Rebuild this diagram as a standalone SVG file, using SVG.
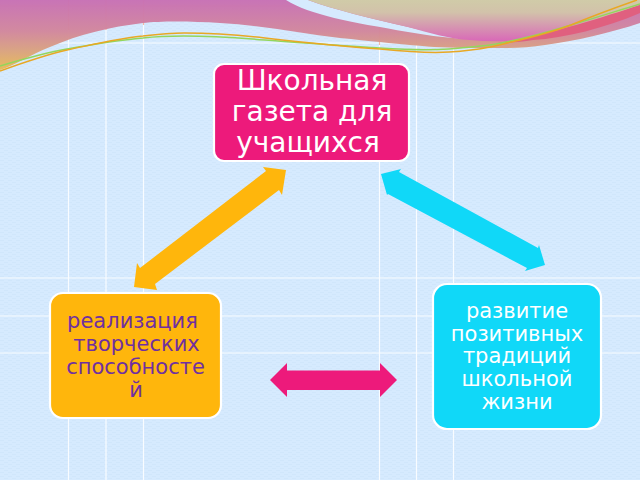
<svg xmlns="http://www.w3.org/2000/svg" width="640" height="480" viewBox="0 0 640 480">
<style>
.g{stroke:#fff;stroke-width:1.2;fill:none;opacity:.85}
.box{stroke:#fff;stroke-width:2.2}
text{font-family:"DejaVu Sans",sans-serif;text-anchor:middle}
.t1{font-size:28px;fill:#fff}
.t2{font-size:21px;fill:#7030a0}
.t3{font-size:21px;fill:#fff}
</style>
<defs>
<pattern id="tex" width="8" height="4" patternUnits="userSpaceOnUse"><rect width="8" height="4" fill="#d6eafe"/><rect x="0" y="0" width="4" height="1" fill="#d0e6fb"/><rect x="4" y="2" width="4" height="1" fill="#d0e6fb"/></pattern>
<linearGradient id="a" x1="0" y1="0" x2="0" y2="1"><stop offset="0" stop-color="#c870b4"/><stop offset=".45" stop-color="#d2879c"/><stop offset=".7" stop-color="#d9a082"/><stop offset="1" stop-color="#e8bc55"/></linearGradient>
<linearGradient id="b" x1="0" y1="0" x2="0" y2="1"><stop offset="0" stop-color="#d0cba8"/><stop offset=".3" stop-color="#d2c2aa"/><stop offset="1" stop-color="#d968b8"/></linearGradient>
</defs>
<rect width="640" height="480" fill="url(#tex)"/>
<g id="grid">
<path class="g" d="M68.500 0V480M106 0V480M143.500 0V480M379.500 0V480M416.500 0V480M453.500 0V480M0 43H640M0 278H640M0 316H640M0 353H640"/>
<path d="M68.500 0V30M106 0V30M143.500 0V25M379.500 0V45M416.500 0V45M453.500 0V45M0 6H640" stroke="#f4b8a4" stroke-width="1.200" fill="none"/>
</g>
<g id="top-band">
<path d="M0 0H640V23C610 33 575 41 545 45C520 49 495 48 470 48C430 48 400 44 340 38C300 33 260 25 220 23C190 21 160 21 143 23C110 27 80 34 50 47C30 55 15 65 0 70Z" fill="url(#a)" fill-opacity=".97"/>
<path d="M286 0C310 15 350 22 408 32C425 35 440 37 465 39L470 36C440 34 425 31 408 27C370 18 335 10 308 0Z" fill="#d6eafe"/>
<path d="M308 0H640V5C600 20 560 32 530 38C510 42 490 42 470 40C450 39 430 33 408 27C370 18 335 10 308 0Z" fill="url(#b)"/>
<path d="M497 43C545 36 600 18 640 5V13C605 28 565 38 533 40C520 42 508 43 497 43Z" fill="#e0607f"/>
<path d="M0 66C30 57 45 53 67 49C100 43 120 40 143 38C160 36 175 36 184 36C210 36 240 38 265 40C300 43 350 46 380 48C410 50 435 50 449 49C465 48 480 46 490 45C520 40 545 33 571 25C595 18 620 10 640 4" fill="none" stroke="#93d65c" stroke-width="1.500"/>
<path d="M0 71C25 62 45 55 67 50C100 43 120 38 143 36C160 34 175 33 184 33C210 33 240 35 265 38C300 42 350 47 380 49C410 52 435 53 449 52C465 51 480 49 490 47C520 40 545 35 571 25C595 15 620 6 637 0" fill="none" stroke="#e8a824" stroke-width="1.500"/>
</g>
<g id="connectors">
<polygon fill="#ffb60c" points="286,170 263,167 266,171 140,268 137,263 134,287 157,290 155,284 279,190 282,195"/>
<polygon fill="#10d8f8" points="381,174 401,169 399,172 538,248 539,245 545,265 525,271 527,268 388,194 387,195"/>
<polygon fill="#ed1a7b" points="270,380 287,363 287,370.500 380,370.500 380,363 397,380 380,397 380,390 287,390 287,397"/>
</g>
<g id="node-top">
<rect class="box" x="214" y="64" width="195" height="97" rx="10" fill="#ed1a7b"/>
<text class="t1" x="312" y="90">Школьная</text>
<text class="t1" x="312" y="121">газета для</text>
<text class="t1" x="308" y="152">учащихся</text>
</g>
<g id="node-left">
<rect class="box" x="50" y="293" width="171" height="125" rx="13" fill="#ffb60c"/>
<text class="t2" x="132.500" y="328">реализация</text>
<text class="t2" x="136.500" y="351">творческих</text>
<text class="t2" x="135.500" y="374">способносте</text>
<text class="t2" x="136" y="397">й</text>
</g>
<g id="node-right">
<rect class="box" x="433" y="284" width="168" height="145" rx="14" fill="#10d8f8"/>
<text class="t3" x="517" y="318">развитие</text>
<text class="t3" x="517" y="341">позитивных</text>
<text class="t3" x="517" y="363">традиций</text>
<text class="t3" x="517" y="386">школьной</text>
<text class="t3" x="517" y="409">жизни</text>
</g>
</svg>
